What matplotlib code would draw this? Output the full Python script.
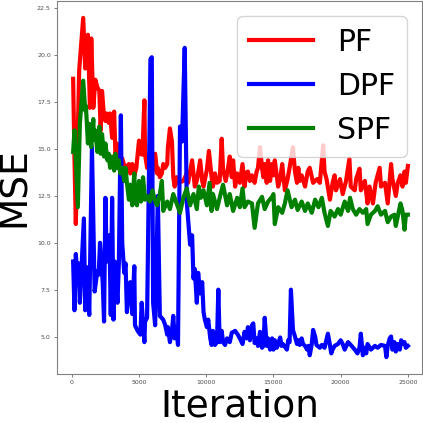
import numpy as np
import matplotlib.pyplot as plt

# Data (iteration, MSE)
pf_iter = [100, 200, 300, 550, 850, 1000, 1200, 1350, 1450, 1600, 1750, 1900, 2050, 2150,
           2250, 2400, 2500, 2600, 2750, 2850, 3000, 3150, 3250, 3350, 3500, 3750, 3950,
           4250, 4350, 4500, 4650, 4800, 5000, 5100, 5250, 5400, 5450, 5600, 5800, 5950,
           6200, 6350, 6400, 6550, 6700, 6800, 6950, 7100, 7150, 7300, 7450, 7550, 7650,
           7800, 7900, 8300, 8550, 8650, 8950, 9050, 9150, 9300, 9550, 9700, 9800, 10050,
           10200, 10400, 10500, 10650, 10800, 11000, 11150, 11250, 11450, 11600, 11750,
           11900, 12000, 12150, 12300, 12500, 12700, 12850, 13000, 13100, 13250, 13400,
           13600, 13750, 13850, 14000, 14150, 14250, 14350, 14500, 14600, 14750, 14900,
           15000, 15100, 15350, 15500, 15650, 15850, 16050, 16200, 16450, 16600, 16750,
           16850, 16950, 17100, 17350, 17550, 17700, 17950, 18250, 18450, 18700, 18800,
           18950, 19200, 19400, 19550, 19650, 19950, 20150, 20400, 20650, 20750, 21050,
           21150, 21400, 21500, 21800, 22000, 22150, 22400, 22600, 22900, 23000, 23300,
           23500, 23750, 23850, 24100, 24250, 24450, 24600, 24750, 24850, 25000]
pf_mse = [18.75, 14.5, 11.0, 19.2, 22.0, 19.3, 21.1, 17.2, 20.9, 17.2, 18.7, 18.3, 18.1, 16.0,
          18.1, 16.7, 16.5, 16.9, 16.4, 16.9, 15.6, 17.0, 14.6, 15.3, 14.2, 14.5, 14.0,
          14.2, 13.7, 14.2, 13.6, 14.0, 15.45, 14.75, 14.7, 17.6, 14.75, 14.0, 14.75, 13.5,
          14.75, 13.7, 14.0, 13.5, 13.7, 14.2, 14.0, 14.2, 15.1, 16.1, 15.4, 13.5, 13.0,
          13.5, 13.2, 13.3, 13.7, 13.2, 14.4, 13.7, 13.0, 13.3, 14.4, 13.3, 13.0, 13.9,
          14.9, 13.5, 13.0, 13.7, 13.2, 13.3, 15.55, 13.9, 13.3, 13.9, 14.6,
          13.5, 14.4, 13.0, 13.7, 13.2, 14.2, 13.0, 13.75, 13.8, 13.3, 13.6,
          13.2, 13.8, 14.0, 15.1, 14.0, 13.5, 14.2, 13.2, 14.4, 13.3, 14.2,
          13.6, 14.4, 13.0, 13.4, 14.2, 12.8, 13.4, 14.0, 15.1, 13.8, 13.2,
          14.0, 13.3, 13.6, 13.0, 13.8, 14.0, 13.2, 13.4, 13.2, 15.2, 13.8,
          13.4, 12.3, 13.2, 13.6, 12.8, 13.4, 12.6, 13.3, 14.5, 13.0, 12.8,
          13.4, 13.95, 12.8, 13.3, 12.1, 13.0, 12.1, 13.2, 14.0, 13.0, 13.2,
          12.1, 14.2, 13.4, 12.5, 13.2, 13.6, 13.0, 13.8, 13.2, 14.1]

dpf_iter = [100, 200, 300, 400, 500, 600, 900, 1000, 1100, 1300, 1500, 1700, 1900, 2000,
            2100, 2300, 2400, 2500, 2600, 2800, 2900, 3000, 3100, 3200, 3400, 3500, 3650,
            3750, 3900, 4000, 4100, 4250, 4350, 4500, 4650, 4700, 4900, 5100, 5200, 5400,
            5450, 5600, 5850, 5950, 6050, 6200, 6400, 6550, 6800, 6950, 7100, 7150, 7300,
            7450, 7550, 7650, 7800, 7900, 8050, 8200, 8400, 8550, 8800, 8950, 9050, 9150,
            9300, 9400, 9550, 9700, 9800, 9900, 10050, 10150, 10300, 10400, 10500, 10650,
            10800, 10900, 11000, 11150, 11250, 11400, 11550, 11750, 11900, 12150, 12350,
            12500, 12700, 12850, 13000, 13100, 13250, 13400, 13500, 13600, 13750, 13850,
            14000, 14150, 14250, 14350, 14500, 14600, 14750, 14900, 15000, 15100, 15250,
            15500, 15600, 15700, 16000, 16100, 16200, 16300, 16450, 16600, 16750, 16850,
            16950, 17100, 17200, 17350, 17500, 17600, 17700, 17850, 17950, 18100, 18200,
            18450, 18600, 18800, 19050, 19200, 19300, 19400, 19550, 19800, 20000, 20150,
            20300, 20550, 20750, 21050, 21250, 21400, 21500, 21650, 21800, 21900, 22000,
            22250, 22550, 22750, 23000, 23300, 23400, 23500, 23650, 23750, 23850, 24000,
            24100, 24250, 24400, 24500, 24600, 24750, 24850, 25000]
dpf_mse = [9.0, 6.4, 9.4, 8.4, 8.9, 6.8, 11.3, 6.4, 8.7, 6.15, 15.1, 7.4, 8.5, 8.3,
           10.0, 7.9, 5.8, 12.4, 9.0, 10.4, 6.15, 12.4, 5.9, 9.0, 6.8, 8.9, 16.8,
           10.0, 8.4, 8.9, 6.3, 7.7, 7.9, 6.2, 8.75, 5.6, 5.3, 5.1, 6.8, 4.7,
           5.8, 6.0, 19.8, 19.9, 6.8, 5.6, 12.5, 6.1, 5.9, 5.6, 5.1, 5.5, 4.7,
           5.3, 6.1, 4.9, 5.5, 4.55, 16.2, 15.4, 20.4, 12.2, 9.9, 10.4, 8.1, 8.6,
           6.8, 8.4, 7.3, 7.9, 6.3, 5.9, 5.5, 5.9, 4.9, 4.55, 5.3, 4.55,
           4.7, 7.5, 4.7, 5.3, 4.7, 4.55, 4.9, 4.7, 5.2, 5.3, 5.1,
           4.9, 4.6, 5.25, 4.9, 5.5, 4.8, 5.6, 5.7, 4.65, 4.9, 4.5,
           5.25, 4.4, 4.5, 6.0, 4.5, 4.9, 4.3, 4.9, 4.3, 4.8, 4.4,
           4.95, 4.5, 4.6, 4.3, 4.8, 4.7, 7.5, 5.35, 5.0, 4.6, 4.8,
           4.55, 4.9, 4.6, 4.5, 4.3, 4.5, 4.0, 4.6, 5.35, 5.0, 4.55,
           4.4, 4.55, 4.4, 5.15, 4.55, 4.1, 4.3, 4.5, 4.6, 4.8, 4.6,
           4.3, 4.7, 4.55, 4.3, 4.1, 4.4, 5.15, 4.0, 4.4, 4.1, 4.6,
           4.3, 4.5, 4.4, 4.55, 4.5, 3.9, 4.5, 4.9, 5.0, 4.3, 4.7,
           4.2, 4.6, 4.3, 4.8, 4.6, 4.7, 4.4, 4.5]

spf_iter = [100, 200, 350, 450, 600, 850, 1000, 1050, 1200, 1300, 1450, 1600, 1650, 1750,
            1900, 2050, 2150, 2250, 2400, 2500, 2650, 2750, 2850, 3000, 3150, 3250, 3400,
            3500, 3600, 3750, 3900, 4000, 4100, 4250, 4350, 4500, 4650, 4700, 4850, 5000,
            5150, 5250, 5300, 5450, 5600, 5800, 6000, 6200, 6350, 6550, 6700, 6800, 7100,
            7300, 7550, 7800, 8050, 8300, 8550, 8800, 9050, 9300, 9450, 9600, 9800, 10050,
            10250, 10400, 10500, 10800, 11000, 11250, 11550, 11750, 12000, 12300, 12500,
            12700, 12850, 13100, 13400, 13600, 13850, 14150, 14350, 14600, 14900, 15000,
            15100, 15350, 15650, 15850, 16050, 16350, 16600, 16800, 17100, 17350, 17550,
            17850, 18100, 18350, 18600, 18800, 19050, 19250, 19550, 19800, 20000, 20300,
            20550, 20700, 20900, 21150, 21400, 21650, 21900, 22000, 22250, 22550, 22750,
            23000, 23300, 23500, 23750, 24000, 24100, 24450, 24600, 24750, 24850, 25000]
spf_mse = [14.85, 16.0, 13.5, 11.9, 16.35, 18.65, 17.05, 17.3, 15.3, 16.35, 15.1, 16.6, 15.5, 16.0,
           14.85, 16.2, 14.75, 15.8, 14.6, 15.3, 14.4, 14.75, 14.0, 14.6, 13.85, 14.75, 14.0,
           14.4, 13.7, 14.0, 13.3, 14.0, 13.2, 12.3, 13.1, 12.0, 13.7, 12.4, 12.0, 13.3,
           12.2, 12.6, 13.5, 12.3, 12.5, 12.2, 12.8, 12.2, 12.0, 12.6, 13.3, 11.7, 12.2,
           11.8, 12.6, 12.1, 11.6, 12.4, 12.9, 12.0, 12.6, 11.8, 13.0, 12.4, 12.8, 12.0,
           13.2, 11.7, 12.6, 11.8, 12.4, 13.1, 12.0, 12.6, 11.7, 12.4, 11.9,
           12.9, 11.9, 12.2, 12.1, 10.8, 12.1, 12.45, 11.8, 12.2, 12.45, 12.6,
           11.0, 11.9, 11.6, 12.1, 12.8, 11.9, 12.3, 11.75, 12.2, 11.7, 12.1,
           11.6, 12.3, 11.9, 12.4, 11.6, 10.9, 11.7, 11.4, 11.8, 11.5, 12.2,
           11.7, 12.4, 11.8, 11.5, 11.8, 11.6, 11.8, 11.0, 11.5, 11.7, 11.95,
           11.5, 11.7, 11.1, 11.4, 11.5, 10.9, 12.1, 11.7, 10.7, 11.5, 11.5]

fig = plt.figure(figsize=(4.23, 4.23), dpi=100)
ax = fig.add_axes([57 / 423, 49 / 423, 365 / 423, 373 / 423])

ax.plot(pf_iter, pf_mse, color='red', lw=3, label='PF')
ax.plot(dpf_iter, dpf_mse, color='blue', lw=3, label='DPF')
ax.plot(spf_iter, spf_mse, color='green', lw=3, label='SPF')

ax.set_xlim(-1100, 26050)
ax.set_ylim(3.0, 22.9)
ax.set_xticks(np.arange(0, 25001, 5000))
ax.set_yticks(np.arange(5.0, 22.6, 2.5))
ax.tick_params(labelsize=4.5, labelcolor='0.3', length=2.5, width=0.6, color='0.4', pad=2)
for sp in ax.spines.values():
    sp.set_color('0.5')
    sp.set_linewidth(0.8)

ax.set_xlabel('Iteration', fontsize=27, labelpad=2)
ax.set_ylabel('MSE', fontsize=27)
ax.yaxis.set_label_coords(-0.065, 0.5)

ax.legend(loc='upper right', fontsize=21.5, handlelength=2.15)

fig.savefig('out.png', dpi=100)
